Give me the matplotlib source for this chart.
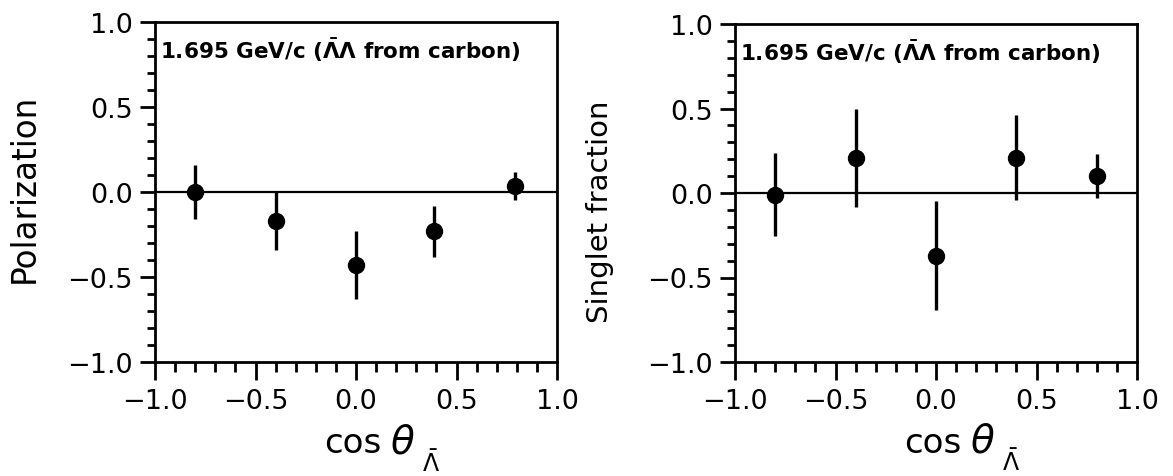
import matplotlib
matplotlib.use("Agg")
import matplotlib.pyplot as plt
from matplotlib.ticker import MultipleLocator

plt.rcParams['font.family'] = ['DejaVu Sans']
plt.rcParams['mathtext.fontset'] = 'dejavusans'

# Data
cos_theta_pol = [-0.80, -0.40, 0.00, 0.39, 0.79]
polarization = [0.00, -0.17, -0.43, -0.23, 0.035]
pol_err = [0.16, 0.17, 0.20, 0.15, 0.08]

cos_theta_sing = [-0.80, -0.40, 0.00, 0.40, 0.80]
singlet = [-0.01, 0.21, -0.37, 0.21, 0.10]
sing_err = [0.245, 0.29, 0.32, 0.25, 0.13]

xticks = [-1.0, -0.5, 0.0, 0.5, 1.0]
yticks = [-1.0, -0.5, 0.0, 0.5, 1.0]
annotation = r"1.695 GeV/c ($\mathbf{\bar{\Lambda}\Lambda}$ from carbon)"

W, H = 1173, 477
fig = plt.figure(figsize=(W/100, H/100), dpi=100)
ax1 = fig.add_axes([155/W, 1 - 363/H, 402/W, 340/H])
ax2 = fig.add_axes([735/W, 1 - 363/H, 402/W, 338/H])

def style(ax, x, y, e, ylabel, ysize, ylab_x, ylab_y):
    ax.set_xlim(-1, 1)
    ax.set_ylim(-1, 1)
    ax.axhline(0, color='black', lw=1.6, zorder=1)
    ax.errorbar(x, y, yerr=e, fmt='o', color='black', ms=11.5,
                elinewidth=2.4, capsize=0, zorder=3)
    for sp in ax.spines.values():
        sp.set_linewidth(2.0)
    ax.set_xticks(xticks)
    ax.set_yticks(yticks)
    ax.set_xticklabels([f"{v:.1f}".replace('-', '\u2212') for v in xticks])
    ax.set_yticklabels([f"{v:.1f}".replace('-', '\u2212') for v in yticks])
    ax.xaxis.set_minor_locator(MultipleLocator(0.1))
    ax.yaxis.set_minor_locator(MultipleLocator(0.1))
    ax.tick_params(which='major', direction='out', width=2.0, labelsize=19.5)
    ax.tick_params(axis='x', which='major', length=13, pad=6)
    ax.tick_params(axis='y', which='major', length=11, pad=5)
    ax.tick_params(axis='x', which='minor', direction='out', length=7, width=2.0)
    ax.tick_params(axis='y', which='minor', direction='out', length=6, width=2.0)
    # x label: "cos θ" with a lowered subscript Λ̄
    ax.text(0.421, -0.265, "cos", transform=ax.transAxes,
            ha='left', va='baseline', fontsize=24.5)
    ax.text(0.585, -0.265, r"$\theta$", transform=ax.transAxes,
            ha='left', va='baseline', fontsize=28)
    ax.text(0.664, -0.32, r"$\bar{\Lambda}$", transform=ax.transAxes,
            ha='left', va='baseline', fontsize=17)
    ax.set_ylabel(ylabel, fontsize=ysize)
    ax.yaxis.set_label_coords(ylab_x, ylab_y)
    ax.text(0.012, 0.962, annotation, transform=ax.transAxes, ha='left',
            va='top', fontsize=15.5, fontweight='bold')

style(ax1, cos_theta_pol, polarization, pol_err, "Polarization", 23.5,
      -0.284, 0.515)
style(ax2, cos_theta_sing, singlet, sing_err, "Singlet fraction", 21,
      -0.30, 0.447)

fig.savefig("out.png", dpi=100)
